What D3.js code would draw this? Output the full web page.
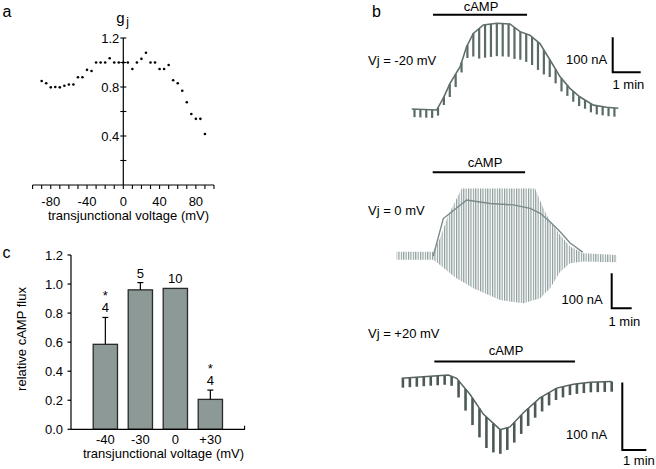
<!DOCTYPE html>
<html><head><meta charset="utf-8">
<script src="https://cdn.jsdelivr.net/npm/d3@7/dist/d3.min.js"></script>
<style>
html,body{margin:0;padding:0;background:#fff;}
svg{display:block;font-family:"Liberation Sans",Arial,Helvetica,sans-serif;}
</style></head>
<body>
<svg id="fig" width="656" height="469"></svg>
<script>
// ---------- Panel a: gj vs transjunctional voltage ----------
const gjVoltage = [-90,-85,-80,-75,-70,-65,-60,-55,-50,-45,-40,-35,-30,-25,-20,-15,-10,-5,0,5,10,15,20,25,30,35,40,45,50,55,60,65,70,75,80,85,90];
const gjValues  = [0.849,0.83,0.797,0.80,0.797,0.81,0.82,0.82,0.88,0.88,0.94,0.93,1.0,1.0,1.0,1.035,1.0,1.0,1.0,1.0,0.947,1.0,1.03,1.08,1.0,1.0,0.947,0.947,0.98,0.855,0.83,0.77,0.675,0.58,0.54,0.54,0.416];
const gjXTicks = [-80,-40,0,40,80];
const gjYTicks = [0.4,0.8,1.2];

// ---------- Panel c: relative cAMP flux ----------
const fluxCategories = ["-40","-30","0","+30"];
const fluxValues = [0.585,0.96,0.97,0.206];
const fluxErrors = [0.185,0.05,0,0.064];
const fluxN = ["4","5","10","4"];
const fluxSignif = [true,false,false,true];
const fluxYTicks = [0.0,0.2,0.4,0.6,0.8,1.0,1.2];

// ---------- Panel b: current traces (time in min, current in nA) ----------
// Vj = -20 mV
const tr1EnvT = [0,0.89,1.13,1.37,1.73,1.96,2.2,2.56,3.04,3.51,3.87,4.22,4.58,4.94,5.3,5.65,6.0,6.49,6.96,7.38];
const tr1EnvI = [0,-3,31,73,121,178,216,240,245,243,221,211,187,140,92,59,35,11,5,2];
const tr1PulseT = [0.10,0.31,0.52,0.73,0.94,1.15,1.36,1.57,1.78,1.99,2.20,2.41,2.62,2.83,3.04,3.25,3.46,3.67,3.88,4.09,4.30,4.51,4.72,4.93,5.14,5.35,5.56,5.77,5.98,6.19,6.40,6.61,6.82,7.03,7.24];
const tr1PulseAmp = [23,23,23,23,23,23,37,37,29,37,66,86,94,94,94,94,94,90,80,80,80,80,70,50,40,37,30,30,28,25,25,25,25,25,25];
const tr1cAMP = [0.76,4.12];

// Vj = 0 mV
const tr2TopT = [0,1.83,2.17,2.58,3.25,6.92,7.33,7.67,8.17,8.67,9.33,11.0];
const tr2TopI = [12,12,51,117,193,193,137,98,60,27,8,3];
const tr2BotT = [0,1.83,2.17,3.0,3.83,5.17,6.33,7.17,7.67,8.17,8.67,9.33,11.0];
const tr2BotI = [-11,-11,-26,-64,-92,-126,-135,-121,-92,-45,-21,-16,-18];
const tr2HoldT = [1.83,2.33,3.5,4.67,5.83,6.67,7.17,7.67,8.17,8.67,9.3];
const tr2HoldI = [0,107,160,150,146,136,122,98,69,37,11];
const tr2cAMP = [1.8,6.42];

// Vj = +20 mV
const tr3EnvT = [0,1.94,2.29,2.85,3.4,4.1,4.51,5.07,5.76,6.46,7.15,7.85,8.75];
const tr3EnvI = [0,4.8,0,-24,-53,-76,-72,-51,-29,-14.5,-8.7,-5.8,-4.9];
const tr3PulseT = [0.05,0.34,0.63,0.92,1.21,1.50,1.79,2.08,2.37,2.66,2.95,3.24,3.53,3.82,4.11,4.40,4.69,4.98,5.27,5.56,5.85,6.14,6.43,6.72,7.01,7.30,7.59,7.88,8.17,8.46,8.75];
const tr3PulseAmp = [14,14,14,14,14,14,14,14,25,32,40,43,46,43,36,33,30,28,26,23,22,19,17,16,15,15,15,15,15,15,15];
const tr3cAMP = [1.36,7.22];

const svg = d3.select("#fig");
const FONT = 13;
const txt = (g, x, y, s, anchor="middle", size=FONT) =>
  g.append("text").attr("x", x).attr("y", y).attr("text-anchor", anchor)
   .attr("font-size", size).attr("fill", "#000").text(s);

// Panel letters
txt(svg, 2.5, 16.5, "a", "start", 16);
txt(svg, 372, 17, "b", "start", 16);
txt(svg, 2.5, 257.5, "c", "start", 16);

// ================= Panel a =================
{
  const g = svg.append("g");
  const x = d3.scaleLinear().domain([-100,100]).range([32.6,214]);
  const y = d3.scaleLinear().domain([0,1.2]).range([185,38]);
  g.append("line").attr("x1", x(-100)).attr("x2", x(100)).attr("y1", y(0)).attr("y2", y(0)).attr("stroke","#000").attr("stroke-width",1.2);
  g.selectAll(".xt").data(d3.range(-100,101,10)).join("line")
    .attr("x1", d=>x(d)).attr("x2", d=>x(d)).attr("y1", y(0)).attr("y2", y(0)+4)
    .attr("stroke","#000").attr("stroke-width",1.1);
  gjXTicks.forEach(v => txt(g, x(v), 205.5, v));
  g.append("line").attr("x1", x(0)).attr("x2", x(0)).attr("y1", y(1.2)).attr("y2", y(0)).attr("stroke","#000").attr("stroke-width",1.2);
  g.selectAll(".yt").data(d3.range(0.2,1.21,0.2)).join("line")
    .attr("x1", x(0)-3).attr("x2", x(0)+3).attr("y1", d=>y(d)).attr("y2", d=>y(d))
    .attr("stroke","#000").attr("stroke-width",1.1);
  gjYTicks.forEach(v => txt(g, x(0)-4, y(v)+4.6, v.toFixed(1), "end"));
  const gl = g.append("text").attr("x", x(0)-7).attr("y", 23).attr("font-size", 15).attr("fill","#000");
  gl.append("tspan").text("g");
  gl.append("tspan").attr("dx", 1.5).attr("dy", 3).attr("font-size", 12).text("j");
  txt(g, 128.5, 220, "transjunctional voltage (mV)");
  g.selectAll(".pt").data(gjVoltage).join("circle")
    .attr("cx", (d)=>x(d)).attr("cy", (d,i)=>y(gjValues[i])).attr("r", 1.3).attr("fill","#000");
}

// ================= Panel c =================
{
  const g = svg.append("g");
  const y = d3.scaleLinear().domain([0,1.2]).range([429.3,255]);
  const x = d3.scaleBand().domain(fluxCategories).range([87.85, 87.85+140]).paddingInner(0.306).paddingOuter(0.153);
  g.selectAll(".bar").data(fluxValues).join("rect")
    .attr("x", (d,i)=>x(fluxCategories[i])).attr("width", x.bandwidth())
    .attr("y", d=>y(d)).attr("height", d=>y(0)-y(d))
    .attr("fill","#8c9996").attr("stroke","#2a2a2a").attr("stroke-width",1.3);
  fluxValues.forEach((v,i) => {
    if (!fluxErrors[i]) return;
    const cx = x(fluxCategories[i]) + x.bandwidth()/2;
    g.append("line").attr("x1",cx).attr("x2",cx).attr("y1",y(v)).attr("y2",y(v+fluxErrors[i])).attr("stroke","#000").attr("stroke-width",1.2);
    g.append("line").attr("x1",cx-3).attr("x2",cx+3).attr("y1",y(v+fluxErrors[i])).attr("y2",y(v+fluxErrors[i])).attr("stroke","#000").attr("stroke-width",1.2);
  });
  fluxValues.forEach((v,i) => {
    const cx = x(fluxCategories[i]) + x.bandwidth()/2;
    const top = y(v + fluxErrors[i]);
    txt(g, cx, top - 5, fluxN[i]);
    if (fluxSignif[i]) txt(g, cx, top - 17.5, "*");
  });
  g.append("line").attr("x1",71).attr("x2",71).attr("y1",y(1.2)).attr("y2",y(0)).attr("stroke","#000").attr("stroke-width",1.2);
  g.selectAll(".yt").data(fluxYTicks).join("line")
    .attr("x1",67.5).attr("x2",71).attr("y1",d=>y(d)).attr("y2",d=>y(d)).attr("stroke","#000").attr("stroke-width",1.2);
  fluxYTicks.forEach(v => txt(g, 63, y(v)+4.6, v.toFixed(1), "end"));
  g.append("line").attr("x1",71).attr("x2",245).attr("y1",y(0)).attr("y2",y(0)).attr("stroke","#000").attr("stroke-width",1.2);
  g.append("line").attr("x1",244.6).attr("x2",244.6).attr("y1",y(0)).attr("y2",y(0)-3.5).attr("stroke","#000").attr("stroke-width",1.1);
  fluxCategories.forEach(c => txt(g, x(c)+x.bandwidth()/2, 444, c));
  txt(g, 163.5, 458, "transjunctional voltage (mV)");
  g.append("text").attr("transform","translate(25.5,339) rotate(-90)").attr("text-anchor","middle")
   .attr("font-size",FONT).attr("fill","#000").text("relative cAMP flux");
}

// ================= Panel b =================
function scaleBar(g, cx, cy, x, y, labelNA, labelMin) {
  const w = x(1)-x(0), h = y(0)-y(100);
  g.append("path").attr("d", `M${cx},${cy-h}V${cy}H${cx+w}`).attr("fill","none").attr("stroke","#000").attr("stroke-width",2);
  txt(g, labelNA[0], labelNA[1], "100 nA", "start");
  txt(g, labelMin[0], labelMin[1], "1 min", "start");
}
function cAMPBar(g, x, range, yBar, textX, textY) {
  g.append("line").attr("x1", x(range[0])).attr("x2", x(range[1])).attr("y1", yBar).attr("y2", yBar).attr("stroke","#000").attr("stroke-width",2);
  txt(g, textX, textY, "cAMP");
}

const defs = svg.append("defs");
const pat = defs.append("pattern").attr("id","vlines").attr("patternUnits","userSpaceOnUse").attr("width",2.4).attr("height",10);
pat.append("rect").attr("width",1.15).attr("height",10).attr("fill","#8a9b9a");

// Trace 1: Vj = -20 mV
{
  const g = svg.append("g");
  const x = d3.scaleLinear().domain([0,1]).range([411.7,439.7]);
  const y = d3.scaleLinear().domain([0,100]).range([109,74]);
  const env = d3.scaleLinear().domain(tr1EnvT).range(tr1EnvI);
  g.selectAll(".p").data(tr1PulseT).join("line")
    .attr("x1", d=>x(d)).attr("x2", d=>x(d))
    .attr("y1", d=>y(env(d))).attr("y2", (d,i)=>y(env(d)-tr1PulseAmp[i]))
    .attr("stroke","#596a67").attr("stroke-width",2.2);
  g.append("path").datum(tr1EnvT)
    .attr("d", d3.line().x(d=>x(d)).y((d,i)=>y(tr1EnvI[i])))
    .attr("fill","none").attr("stroke","#5f6f6c").attr("stroke-width",1.6);
  cAMPBar(g, x, tr1cAMP, 14.7, 481, 11);
  txt(g, 368, 65, "Vj = -20 mV", "start");
  scaleBar(g, 612.7, 72.3, x, y, [566,64], [612.5,89]);
}

// Trace 2: Vj = 0 mV
{
  const g = svg.append("g");
  const x = d3.scaleLinear().domain([0,1]).range([396.7,416.7]);
  const y = d3.scaleLinear().domain([0,100]).range([256,221]);
  const top = d3.scaleLinear().domain(tr2TopT).range(tr2TopI);
  const bot = d3.scaleLinear().domain(tr2BotT).range(tr2BotI);
  const ts = Array.from(new Set(tr2TopT.concat(tr2BotT))).sort((a,b)=>a-b);
  g.append("path").datum(ts)
    .attr("d", d3.area().x(d=>x(d)).y0(d=>y(bot(d))).y1(d=>y(top(d))))
    .attr("fill","url(#vlines)");
  g.append("path").datum(tr2HoldT)
    .attr("d", d3.line().x(d=>x(d)).y((d,i)=>y(tr2HoldI[i])))
    .attr("fill","none").attr("stroke","#7a8b8a").attr("stroke-width",1.4);
  cAMPBar(g, x, tr2cAMP, 172.3, 485, 166.5);
  txt(g, 368, 215, "Vj = 0 mV", "start");
  scaleBar(g, 611.7, 308.3, x, y, [561.5,304], [608.5,325.7]);
}

// Trace 3: Vj = +20 mV
{
  const g = svg.append("g");
  const x = d3.scaleLinear().domain([0,1]).range([401.7,425.7]);
  const y = d3.scaleLinear().domain([0,100]).range([378.3,310.8]);
  const env = d3.scaleLinear().domain(tr3EnvT).range(tr3EnvI);
  g.selectAll(".p").data(tr3PulseT).join("line")
    .attr("x1", d=>x(d)).attr("x2", d=>x(d))
    .attr("y1", d=>y(env(d))).attr("y2", (d,i)=>y(env(d)-tr3PulseAmp[i]))
    .attr("stroke","#4c5a57").attr("stroke-width",2.6);
  g.append("path").datum(tr3EnvT)
    .attr("d", d3.line().x(d=>x(d)).y((d,i)=>y(tr3EnvI[i])))
    .attr("fill","none").attr("stroke","#55635f").attr("stroke-width",1.5);
  cAMPBar(g, x, tr3cAMP, 361.5, 506, 355);
  txt(g, 368, 338, "Vj = +20 mV", "start");
  scaleBar(g, 622.3, 450, x, y, [566,439], [623,465]);
}
</script>
</body></html>
